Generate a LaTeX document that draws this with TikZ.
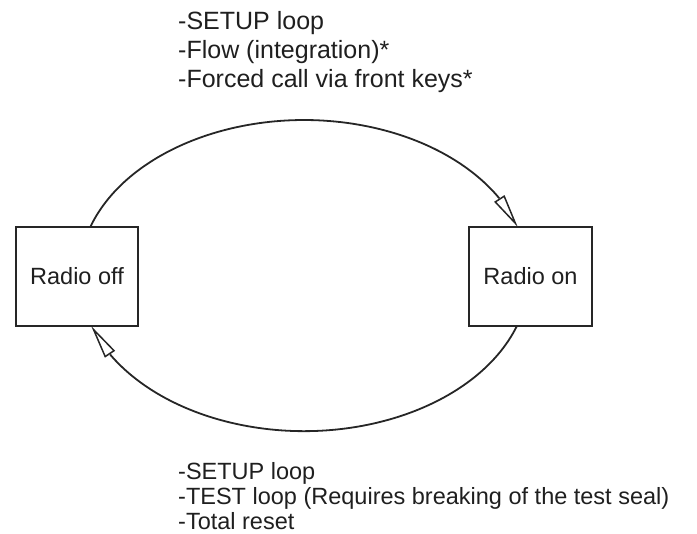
\documentclass[tikz,border=0pt]{standalone}
\usepackage{fontspec}
\setmainfont{Liberation Sans}
\usetikzlibrary{arrows.meta,bending}
\begin{document}
\begin{tikzpicture}[x=1pt,y=1pt,
  stbox/.style={draw=black!85, line width=1.8pt, minimum height=99pt, inner sep=0pt, outer sep=0pt, font=\fontsize{23.5}{28}\selectfont, text=black!88},
  conn/.style={draw=black!85, line width=1.8pt, -{Triangle[open, length=34pt, width=12pt, line width=1.5pt, flex]}},
  lbl/.style={anchor=base west, inner sep=0pt, font=\fontsize{23.5}{28}\selectfont, text=black!88},
  tlbl/.style={lbl, font=\fontsize{25}{30}\selectfont}]
\useasboundingbox (0,0) rectangle (697,534);
\node[stbox, minimum width=122pt] (off) at (77,257.5) {Radio off};
\node[stbox, minimum width=123pt] (on) at (530.5,257.5) {Radio on};
\draw[conn] ([xshift=13.3pt]off.north) arc[start angle=161.8, end angle=18.2, x radius=225pt, y radius=155.5pt];
\draw[conn] ([xshift=-13.6pt]on.south) arc[start angle=-18.9, end angle=-161.1, x radius=225pt, y radius=155.5pt];
\node[tlbl] (t1) at (178,504) {-SETUP loop};
\node[tlbl] (t2) at (178,475) {-Flow (integration)*};
\node[tlbl] (t3) at (178,446) {-Forced call via front keys*};
\node[lbl] (b1) at (178,54) {-SETUP loop};
\node[lbl] (b2) at (178,29.5) {-TEST loop (Requires breaking of the test seal)};
\node[lbl] (b3) at (178,4.5) {-Total reset};
\end{tikzpicture}
\end{document}
